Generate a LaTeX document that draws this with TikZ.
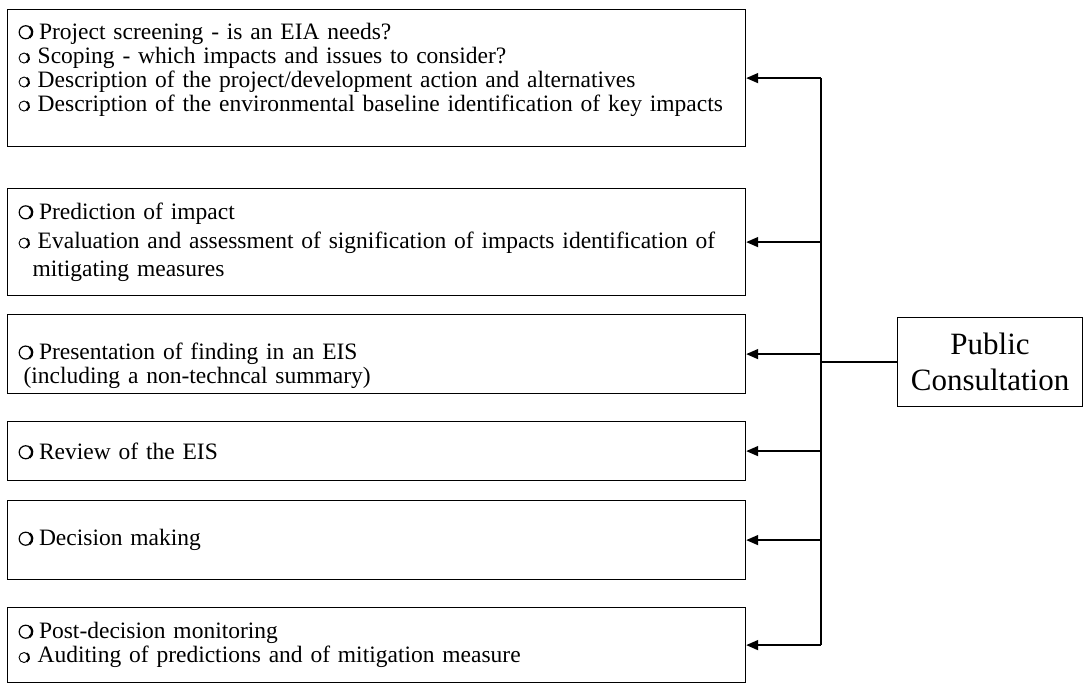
\documentclass[tikz,border=0pt]{standalone}
\usepackage{fontspec}
\setmainfont{Liberation Serif}
\usetikzlibrary{arrows.meta}
\newcommand{\bigbul}{\tikz[x=1pt,y=1pt,baseline=0pt]{\draw[line width=1.2pt] (0,7) circle[radius=6.5]; \draw[line width=2.3pt] (0,7) ++(-55:6.5) arc[start angle=-55,end angle=55,radius=6.5];}\hspace{5.5pt}}
\newcommand{\smbul}{\tikz[x=1pt,y=1pt,baseline=0pt]{\draw[line width=0.9pt] (0,5.2) circle[radius=5]; \draw[line width=1.9pt] (0,5.2) ++(-60:5) arc[start angle=-60,end angle=60,radius=5];}\hspace{7pt}}
\tikzset{
  stage/.style={draw, line width=1.2pt, anchor=north west, align=left,
    text width=716pt, inner xsep=11pt, inner ysep=0pt,
    font=\fontsize{23.5}{24}\selectfont},
  pcbox/.style={draw, line width=1.2pt, anchor=north west, align=center,
    minimum width=185pt, minimum height=89pt, inner sep=0pt,
    font=\fontsize{31}{36}\selectfont},
  feed/.style={line width=1.6pt, -{Triangle[length=12pt,width=10pt]}},
  trunk/.style={line width=1.5pt}
}
\begin{document}
\begin{tikzpicture}[x=1pt,y=-1pt]
\useasboundingbox (0,0) rectangle (1084,684);
\node[stage, minimum height=137pt] (b1) at (7,9) {\bigbul Project screening - is an EIA needs?\\
\smbul Scoping - which impacts and issues to consider?\\
\smbul Description of the project/development action and alternatives\\
\smbul Description of the environmental baseline identification of key impacts\\[-2pt]
\mbox{}};
\node[stage, minimum height=107pt] (b2) at (7,188) {\bigbul Prediction of impact\\[5pt]
\smbul Evaluation and assessment of signification of impacts identification of\\[4pt]
\hspace*{14pt}mitigating measures};
\node[stage, minimum height=79pt] (b3) at (7,314) {\mbox{}\\[16pt]
\bigbul Presentation of finding in an EIS\\
\hspace*{5pt}(including a non-techncal summary)};
\node[stage, minimum height=59pt] (b4) at (7,421) {\bigbul Review of the EIS};
\node[stage, minimum height=79pt] (b5) at (7,500) {\bigbul Decision making};
\node[stage, minimum height=75pt] (b6) at (7,607) {\bigbul Post-decision monitoring\\
\smbul Auditing of predictions and of mitigation measure};
\node[pcbox] (pc) at (897,317) {Public\\Consultation};
\coordinate (top) at (821,0);
\draw[trunk] (top |- b1.east) -- (top |- b6.east);
\draw[trunk] (pc.west) -- (top |- pc.west);
\foreach \b in {b1,b2,b3,b4,b5,b6}
  \draw[feed] (top |- \b.east) -- (\b.east);
\end{tikzpicture}
\end{document}
